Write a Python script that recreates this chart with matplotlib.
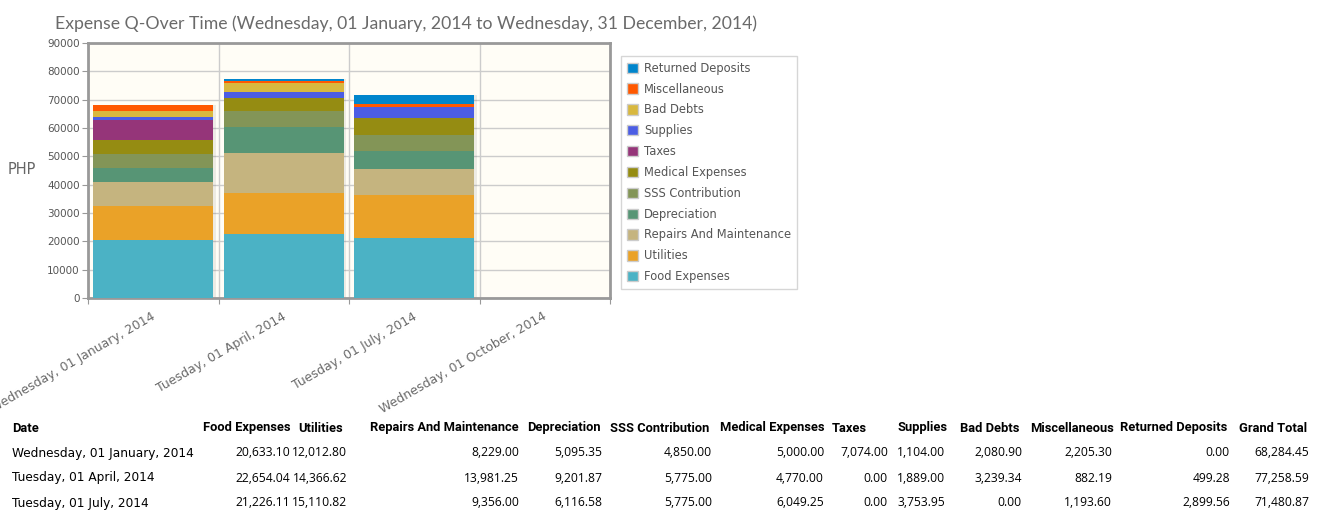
import numpy as np
import matplotlib
matplotlib.use('Agg')
import matplotlib.pyplot as plt
import matplotlib.transforms as mtrans
from matplotlib.patches import Patch

# quarters shown on the axis (last one has no data)
quarters = ['Wednesday, 01 January, 2014', 'Tuesday, 01 April, 2014',
            'Tuesday, 01 July, 2014', 'Wednesday, 01 October, 2014']

categories = ['Food Expenses', 'Utilities', 'Repairs And Maintenance', 'Depreciation',
              'SSS Contribution', 'Medical Expenses', 'Taxes', 'Supplies',
              'Bad Debts', 'Miscellaneous', 'Returned Deposits']

food = [20633.10, 22654.04, 21226.11]
utilities = [12012.80, 14366.62, 15110.82]
repairs = [8229.00, 13981.25, 9356.00]
depreciation = [5095.35, 9201.87, 6116.58]
sss = [4850.00, 5775.00, 5775.00]
medical = [5000.00, 4770.00, 6049.25]
taxes = [7074.00, 0.00, 0.00]
supplies = [1104.00, 1889.00, 3753.95]
bad_debts = [2080.90, 3239.34, 0.00]
misc = [2205.30, 882.19, 1193.60]
returned = [0.00, 499.28, 2899.56]

series = [food, utilities, repairs, depreciation, sss, medical, taxes,
          supplies, bad_debts, misc, returned]

colors = ['#4bb2c5', '#EAA228', '#c5b47f', '#579575', '#839557', '#958c12',
          '#953579', '#4b5de4', '#d8b83f', '#ff5800', '#0085cc']

W, H = 1317, 518
fig = plt.figure(figsize=(W / 100, H / 100), dpi=100)
fig.patch.set_facecolor('white')

ax = fig.add_axes([88 / W, 1 - 298 / H, 522 / W, 255 / H])
ax.set_facecolor('#fffdf6')

n = len(food)
x = np.arange(n) + 0.5
width = 0.92
bottom = np.zeros(n)
# light shadow to the right of each bar
ax.bar(x + 0.02, np.sum(series, axis=0), width=width, color='#000000', alpha=0.07, zorder=2)
for vals, c in zip(series, colors):
    ax.bar(x, vals, width=width, bottom=bottom, color=c, zorder=3)
    bottom += np.array(vals)

ax.set_xlim(0, len(quarters))
ax.set_ylim(0, 90000)
ax.set_yticks(np.arange(0, 90001, 10000))
ax.set_xticks(np.arange(0, len(quarters) + 1))
ax.set_xticklabels([])
ax.tick_params(axis='x', which='major', length=4, color='#999999')
ax.tick_params(axis='y', labelsize=7.5, labelcolor='#555555', length=4, color='#999999', pad=2)
ax.grid(True, color='#cccccc', lw=1, zorder=0)
ax.set_axisbelow(True)
for s in ax.spines.values():
    s.set_color('#999999')
    s.set_linewidth(2)

# rotated category labels, anchored at the top-right end under each slot
lab_tr = ax.get_xaxis_transform() + mtrans.ScaledTranslation(-2 / 100, -12 / 100, fig.dpi_scale_trans)
for i, q in enumerate(quarters):
    ax.text(i + 0.5, 0, q, transform=lab_tr, rotation=30, rotation_mode='anchor',
            ha='right', va='top', fontsize=9, color='#6a6a6a', clip_on=False)

fig.text(55 / W, 1 - 24 / H,
         'Expense Q-Over Time (Wednesday, 01 January, 2014 to Wednesday, 31 December, 2014)',
         fontsize=12.7, color='#6a6a6a', va='center', ha='left',
         family=['Lato', 'DejaVu Sans'])
fig.text(8 / W, 1 - 170 / H, 'PHP', fontsize=10.5, color='#666666', va='center', ha='left')

handles = [Patch(facecolor=c, edgecolor='#cccccc', label=l) for c, l in zip(colors, categories)]
leg = fig.legend(handles[::-1], categories[::-1], loc='upper left',
                 bbox_to_anchor=(621 / W, 1 - 56 / H), fontsize=8.3, frameon=True,
                 fancybox=False, handlelength=1.0, handleheight=1.0, handletextpad=0.5,
                 labelspacing=0.68, borderpad=0.5, borderaxespad=0)
leg.get_frame().set_edgecolor('#cccccc')
for t in leg.get_texts():
    t.set_color('#555555')

# summary table under the chart
header_x = [12, 203, 298, 370, 527, 610, 720, 832, 897, 960, 1030, 1120, 1239]
value_r = [None, 290, 347, 519, 602, 712, 824, 888, 945, 1022, 1112, 1230, 1309]
headers = ['Date'] + categories + ['Grand Total']
row_y = [428, 453, 478, 503]
dfont = dict(fontsize=8.7, color='#000000', va='center', family='DejaVu Sans')
tfont = dict(fontsize=8.7, color='#000000', va='center', family=['Open Sans', 'DejaVu Sans'])
hfont = dict(fontsize=9.3, color='#000000', va='center',
             family=['Roboto', 'DejaVu Sans'], fontweight='bold')
for hx, h in zip(header_x, headers):
    fig.text(hx / W, 1 - row_y[0] / H, h, ha='left', **hfont)
grand = np.sum(series, axis=0)
for i in range(n):
    y = 1 - row_y[i + 1] / H
    fig.text(header_x[0] / W, y, quarters[i], ha='left', **dfont)
    vals = [s[i] for s in series] + [grand[i]]
    for r, v in zip(value_r[1:], vals):
        fig.text(r / W, y, f'{v:,.2f}', ha='right', **tfont)

fig.savefig('out.png', dpi=100)
